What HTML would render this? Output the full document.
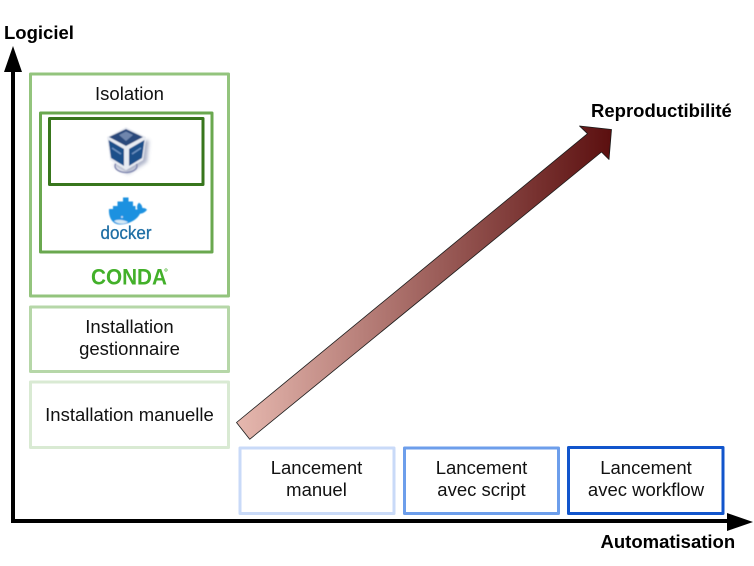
<!DOCTYPE html>
<html>
<head>
<meta charset="utf-8">
<style>
html,body{margin:0;padding:0;background:#fff;width:754px;height:566px;overflow:hidden}
svg{display:block}
text{font-family:"Liberation Sans",sans-serif;font-size:18.5px;fill:#111}
.b{font-weight:bold;fill:#000}
.m{text-anchor:middle}
.box{fill:#fff;stroke-linejoin:round}
.d{fill:#1d91e0;stroke:none}
</style>
</head>
<body>
<svg width="754" height="566" viewBox="0 0 754 566" xmlns="http://www.w3.org/2000/svg">
<defs>
<linearGradient id="g" gradientUnits="userSpaceOnUse" x1="237" y1="280" x2="612" y2="280">
<stop offset="0" stop-color="#e6b8af"/>
<stop offset="1" stop-color="#5b0f0f"/>
</linearGradient>
<filter id="s" x="-20%" y="-20%" width="140%" height="140%"><feGaussianBlur stdDeviation="0.45"/></filter>
<filter id="s2" x="-30%" y="-30%" width="160%" height="160%"><feGaussianBlur stdDeviation="1.800"/></filter>
</defs>

<!-- boxes left -->
<rect class="box" x="30.5" y="74" width="198" height="222" stroke="#93c47d" stroke-width="3"/>
<rect class="box" x="40.5" y="113" width="171.500" height="139" stroke="#6aa84f" stroke-width="3"/>
<rect class="box" x="49.500" y="118.500" width="153.500" height="66" stroke="#38761d" stroke-width="3"/>
<rect class="box" x="30.5" y="307" width="198" height="64.500" stroke="#b6d7a8" stroke-width="3"/>
<rect class="box" x="30.5" y="382" width="198" height="65.500" stroke="#d9ead3" stroke-width="3"/>

<!-- boxes bottom -->
<rect class="box" x="240" y="448" width="154" height="65.500" stroke="#c9daf8" stroke-width="3"/>
<rect class="box" x="404.500" y="448" width="154" height="65.500" stroke="#6d9eeb" stroke-width="3"/>
<rect class="box" x="568.500" y="447.500" width="154.500" height="66" stroke="#1155cc" stroke-width="3"/>

<!-- axes -->
<polyline points="13,72 13,521 728,521" fill="none" stroke="#000" stroke-width="4"/>
<polygon points="13,46 22,72 4,72" fill="#000"/>
<polygon points="753,522 727,513 727,531" fill="#000"/>

<!-- big arrow -->
<polygon points="236.500,422.500 249.700,439.300 601.500,152 609,159.500 611.500,129.500 579.500,126 587.500,133.700" fill="url(#g)" stroke="#1a1a1a" stroke-width="0.800" stroke-linejoin="round"/>

<!-- labels -->
<text class="b" x="4" y="39">Logiciel</text>
<text class="b" x="591" y="117">Reproductibilité</text>
<text class="b" x="600.500" y="548">Automatisation</text>

<text class="m" x="129.500" y="100">Isolation</text>
<text class="m" x="129.500" y="333">Installation</text>
<text class="m" x="129.500" y="355">gestionnaire</text>
<text class="m" x="129.500" y="421">Installation manuelle</text>
<text class="m" x="316.500" y="474">Lancement</text>
<text class="m" x="316.500" y="496">manuel</text>
<text class="m" x="481.500" y="474">Lancement</text>
<text class="m" x="481.500" y="496">avec script</text>
<text class="m" x="646" y="474">Lancement</text>
<text class="m" x="646" y="496">avec workflow</text>

<!-- VirtualBox cube -->
<g filter="url(#s)">
<polygon points="128,142 149,140 147,162 128,174 114,166" fill="#6f7aa0" opacity=".55" filter="url(#s2)"/>
<ellipse cx="126" cy="166" rx="11" ry="6.500" fill="none" stroke="#7d84ad" stroke-width="1.300"/>
<polygon points="126,127 146,137 143,160 126,170 110,160 107,137" fill="#e8ebf2"/>
<polygon points="126,129 143,137 126,146 109,137" fill="#2c4a7c"/>
<polygon points="119,135 126,131.500 133,135 126,141" fill="#6f86ad"/>
<polygon points="108.500,140 124,149 124,166 111,158" fill="#1f4f8a"/>
<polygon points="144.500,140 129,149 129,166 142,158" fill="#1f4f8a"/>
<line x1="112" y1="148" x2="121" y2="154" stroke="#6f94c2" stroke-width="1.500"/>
<line x1="141" y1="148" x2="132" y2="154" stroke="#6f94c2" stroke-width="1.500"/>
</g>

<!-- Docker whale -->
<g filter="url(#s)">
<path class="d" d="M113,209 L113,206 L117.500,206 L117.500,201.500 L123,201.500 L123,197.500 L128.500,197.500 L128.500,201.500 L133,201.500 L133,206 L135.500,206 L135.500,209.500 L137.500,209.500 C136.500,206.500 137.500,204 139,202.800 C141,204 142.300,206 142.300,208 C144,207.800 145.800,208.300 147,209.800 C145,212.500 142.500,213.500 140,213.800 C136.500,220.500 128,224.500 120,224.500 C113,224.500 108.300,218 109,209 Z"/>
<path d="M114,221 C118,218.500 124,220 128,222 C124,224.500 118,224.500 114,221 Z" fill="#d5e9f5"/>
<circle cx="122" cy="217" r="1" fill="#cfe6f6"/>
</g>
<text x="100.500" y="239" textLength="51" lengthAdjust="spacingAndGlyphs" style="font-size:18px;fill:#1f6fa5;stroke:#1f6fa5;stroke-width:.3">docker</text>

<!-- Conda -->
<text x="91" y="284.500" textLength="76" lengthAdjust="spacingAndGlyphs" style="font-size:22px;font-weight:bold;fill:#43b02a">CONDA</text>
<circle cx="166" cy="270" r="1.200" fill="none" stroke="#43b02a" stroke-width=".6"/>
</svg>
</body>
</html>
